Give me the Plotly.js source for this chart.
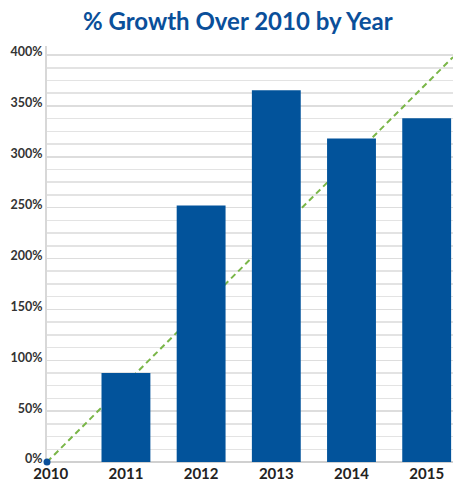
<!DOCTYPE html>
<html>
<head>
<meta charset="utf-8">
<script src="https://cdn.plot.ly/plotly-3.0.1.min.js"></script>
<style>html,body{margin:0;padding:0;background:#fff;}#chart{width:453px;height:482px;}</style>
</head>
<body>
<div id="chart"></div>
<script>
const years = [2011, 2012, 2013, 2014, 2015];
const growth = [87.5, 252, 365.5, 318, 338];
const tickYears = [2010, 2011, 2012, 2013, 2014, 2015];
const tickLabels = ['2010', '2011', '2012', '2013', '2014', '2015'];
const trendX = [2009.95, 2015.35];
const trendY = [0, 398];
const startX = [2009.95];
const startY = [0];

const xRange = [2009.95, 2015.35];
const yRange = [0, 408.9];

const data = [
  {
    type: 'scatter', mode: 'lines', x: trendX, y: trendY,
    xaxis: 'x', yaxis: 'y',
    line: {color: '#7AB648', width: 2, dash: '6px,4px'},
    cliponaxis: false, hoverinfo: 'skip'
  },
  {
    type: 'bar', x: years, y: growth,
    xaxis: 'x2', yaxis: 'y2',
    width: 0.65,
    marker: {color: '#02539B', line: {width: 0}},
    hoverinfo: 'skip'
  },
  {
    type: 'scatter', mode: 'markers', x: startX, y: startY,
    xaxis: 'x2', yaxis: 'y2',
    marker: {color: '#0A4F9A', size: 7, line: {width: 0}},
    cliponaxis: false, hoverinfo: 'skip'
  }
];

const layout = {
  width: 453, height: 482,
  margin: {l: 47, r: 0, t: 46, b: 20, pad: 0},
  paper_bgcolor: '#fff', plot_bgcolor: '#fff',
  showlegend: false,
  title: {
    text: '% Growth Over 2010 by Year',
    font: {family: 'Lato, sans-serif', size: 24, color: '#0A4F9A', weight: 'bold'},
    x: 0.525, xanchor: 'center', xref: 'container',
    y: 0.955, yanchor: 'middle', yref: 'container'
  },
  xaxis: {
    range: xRange,
    tickmode: 'array', tickvals: tickYears, ticktext: tickLabels,
    showgrid: false, zeroline: false,
    showline: false,
    ticks: '', ticklen: 0,
    ticklabelstandoff: 1,
    tickfont: {family: 'Lato, sans-serif', size: 15, color: '#222', weight: 'bold'},
    fixedrange: true
  },
  yaxis: {
    range: yRange,
    tick0: 0, dtick: 50,
    ticksuffix: '%',
    showgrid: true, gridcolor: '#DDDDDD', gridwidth: 1.5,
    minor: {dtick: 12.5, showgrid: true, gridcolor: '#E3E3E3', gridwidth: 1.5},
    zeroline: true, zerolinecolor: '#D0D0D0', zerolinewidth: 2,
    showline: true, linecolor: '#D8D8D8', linewidth: 2,
    layer: 'below traces',
    ticks: '', ticklen: 0,
    ticklabelshift: -3,
    tickfont: {family: 'Lato, sans-serif', size: 12.5, color: '#333', weight: 'bold'},
    fixedrange: true
  },
  xaxis2: {
    overlaying: 'x', matches: 'x', range: xRange,
    showgrid: false, zeroline: false, showline: false, showticklabels: false, ticks: '',
    fixedrange: true
  },
  yaxis2: {
    overlaying: 'y', range: yRange,
    showgrid: false, zeroline: false, showline: false, showticklabels: false, ticks: '',
    fixedrange: true
  }
};

Plotly.newPlot('chart', data, layout, {displayModeBar: false, staticPlot: true});
</script>
</body>
</html>
